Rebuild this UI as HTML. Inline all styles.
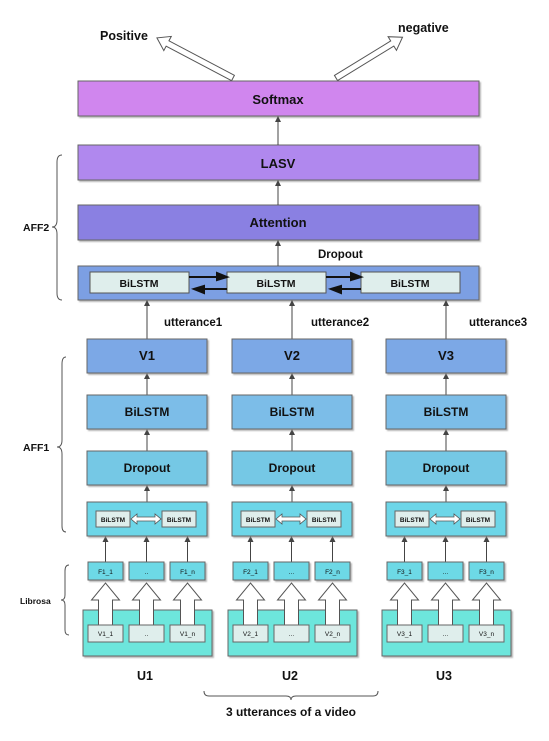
<!DOCTYPE html>
<html><head><meta charset="utf-8"><style>
html,body{margin:0;padding:0;background:#fff}
svg{display:block}
text{font-family:"Liberation Sans",sans-serif;font-weight:bold;fill:#111}
.n{font-weight:normal}
</style></head><body>
<svg width="549" height="741" viewBox="0 0 549 741" xmlns="http://www.w3.org/2000/svg">
<defs>
<marker id="ah" markerWidth="6" markerHeight="6" refX="5" refY="3" orient="auto"><path d="M0,0 L6,3 L0,6 z" fill="#444"/></marker>
<filter id="sh" x="-5%" y="-5%" width="115%" height="130%"><feDropShadow dx="1.5" dy="1.5" stdDeviation="0.8" flood-color="#888" flood-opacity="0.6"/></filter>
<g id="col">
<g stroke="#444" fill="none" marker-end="url(#ah)">
<line x1="60" y1="339" x2="60" y2="301"/>
<line x1="60" y1="395" x2="60" y2="374"/>
<line x1="60" y1="451" x2="60" y2="430"/>
<line x1="60" y1="502" x2="60" y2="486"/>
<line x1="18.5" y1="562" x2="18.5" y2="537"/>
<line x1="59.5" y1="562" x2="59.5" y2="537"/>
<line x1="100.5" y1="562" x2="100.5" y2="537"/>
</g>
<rect x="0" y="339" width="120" height="34" fill="#7ba8e6" stroke="#666" filter="url(#sh)"/>
<rect x="0" y="395" width="120" height="34" fill="#7bbde8" stroke="#666" filter="url(#sh)"/>
<rect x="0" y="451" width="120" height="34" fill="#75c8e5" stroke="#666" filter="url(#sh)"/>
<rect x="0" y="502" width="120" height="34" fill="#6dd6e8" stroke="#666" filter="url(#sh)"/>
<rect x="9" y="511" width="34" height="16" fill="#dfeeec" stroke="#666"/>
<rect x="75" y="511" width="34" height="16" fill="#dfeeec" stroke="#666"/>
<polygon points="44,519 50,514 50,517 68,517 68,514 74,519 68,524 68,521 50,521 50,524" fill="#fff" stroke="#555" stroke-width="0.8"/>
<rect x="-4" y="610" width="129" height="46" fill="#6de6dc" stroke="#666" filter="url(#sh)"/>
<rect x="1" y="562" width="35" height="18" fill="#6dd9e6" stroke="#666" filter="url(#sh)"/>
<rect x="42" y="562" width="35" height="18" fill="#6dd9e6" stroke="#666" filter="url(#sh)"/>
<rect x="83" y="562" width="35" height="18" fill="#6dd9e6" stroke="#666" filter="url(#sh)"/>
<g fill="#fff" stroke="#555">
<polygon points="11.5,642 11.5,600 4.5,600 18.5,583 32.5,600 25.5,600 25.5,642"/>
<polygon points="52.5,642 52.5,600 45.5,600 59.5,583 73.5,600 66.5,600 66.5,642"/>
<polygon points="93.5,642 93.5,600 86.5,600 100.5,583 114.5,600 107.5,600 107.5,642"/>
</g>
<rect x="1" y="625" width="35" height="17" fill="#dfeeec" stroke="#666"/>
<rect x="42" y="625" width="35" height="17" fill="#dfeeec" stroke="#666"/>
<rect x="83" y="625" width="35" height="17" fill="#dfeeec" stroke="#666"/>
</g>
</defs>

<!-- top output arrows -->
<g transform="translate(233,78) rotate(207.8)"><polygon points="0,-3 74,-3 74,-8 86,0 74,8 74,3 0,3" fill="#fff" stroke="#555" stroke-width="1"/></g>
<g transform="translate(336,78) rotate(-31.5)"><polygon points="0,-3 66,-3 66,-8 78,0 66,8 66,3 0,3" fill="#fff" stroke="#555" stroke-width="1"/></g>
<text x="100" y="40" font-size="12.5">Positive</text>
<text x="398" y="32" font-size="12.5">negative</text>

<rect x="78" y="81" width="401" height="35" fill="#d086ee" stroke="#666" filter="url(#sh)"/>
<text x="278" y="104" font-size="13" text-anchor="middle">Softmax</text>
<rect x="78" y="145" width="401" height="35" fill="#b088ee" stroke="#666" filter="url(#sh)"/>
<text x="278" y="168" font-size="13" text-anchor="middle">LASV</text>
<rect x="78" y="205" width="401" height="35" fill="#8a80e2" stroke="#666" filter="url(#sh)"/>
<text x="278" y="227" font-size="13" text-anchor="middle">Attention</text>
<rect x="78" y="266" width="401" height="34" fill="#7b9fe3" stroke="#666" filter="url(#sh)"/>
<rect x="90" y="272" width="99" height="21" fill="#dfeeec" stroke="#555"/>
<rect x="227" y="272" width="99" height="21" fill="#dfeeec" stroke="#555"/>
<rect x="361" y="272" width="99" height="21" fill="#dfeeec" stroke="#555"/>
<text x="139" y="287" font-size="10.5" text-anchor="middle">BiLSTM</text>
<text x="276" y="287" font-size="10.5" text-anchor="middle">BiLSTM</text>
<text x="410" y="287" font-size="10.5" text-anchor="middle">BiLSTM</text>
<g stroke="#111" stroke-width="2" fill="#111">
<line x1="189" y1="277" x2="220" y2="277"/><polygon points="227,277 217,273 217,280"/>
<line x1="201" y1="289" x2="227" y2="289"/><polygon points="194,289 204,286 204,293"/>
<line x1="326" y1="277" x2="354" y2="277"/><polygon points="361,277 351,273 351,280"/>
<line x1="338" y1="289" x2="361" y2="289"/><polygon points="331,289 341,286 341,293"/>
</g>
<text x="318" y="258" font-size="11.5">Dropout</text>
<g stroke="#444" stroke-width="1" fill="none" marker-end="url(#ah)">
<line x1="278" y1="145" x2="278" y2="117"/>
<line x1="278" y1="205" x2="278" y2="181"/>
<line x1="278" y1="266" x2="278" y2="241"/>
</g>

<path d="M62,155 Q57,155 57,162 L57,220 Q57,227 52,227 Q57,227 57,234 L57,293 Q57,300 62,300" fill="none" stroke="#555"/>
<text x="23" y="231" font-size="10.5">AFF2</text>
<path d="M66,357 Q62,357 62,364 L62,440 Q62,447 57,447 Q62,447 62,454 L62,526 Q62,532 66,532" fill="none" stroke="#555"/>
<text x="23" y="451" font-size="10.5">AFF1</text>
<path d="M69,565 Q65,565 65,571 L65,595 Q65,600 61,600 Q65,600 65,605 L65,630 Q65,635 69,635" fill="none" stroke="#555"/>
<text x="20" y="604" font-size="8.5">Librosa</text>

<use href="#col" x="87"/>
<use href="#col" x="232"/>
<use href="#col" x="386"/>

<text x="164" y="326" font-size="11.5">utterance1</text>
<text x="311" y="326" font-size="11.5">utterance2</text>
<text x="469" y="326" font-size="11.5">utterance3</text>

<g font-size="12" text-anchor="middle">
<text x="147" y="360" font-size="13">V1</text><text x="292" y="360" font-size="13">V2</text><text x="446" y="360" font-size="13">V3</text>
<text x="147" y="416">BiLSTM</text><text x="292" y="416">BiLSTM</text><text x="446" y="416">BiLSTM</text>
<text x="147" y="472">Dropout</text><text x="292" y="472">Dropout</text><text x="446" y="472">Dropout</text>
</g>
<g font-size="6.5" text-anchor="middle">
<text x="113" y="522">BiLSTM</text><text x="179" y="522">BiLSTM</text>
<text x="258" y="522">BiLSTM</text><text x="324" y="522">BiLSTM</text>
<text x="412" y="522">BiLSTM</text><text x="478" y="522">BiLSTM</text>
</g>
<g font-size="6.5" text-anchor="middle" class="n">
<text class="n" x="105.5" y="574">F1_1</text><text class="n" x="146.5" y="574">..</text><text class="n" x="187.5" y="574">F1_n</text>
<text class="n" x="250.5" y="574">F2_1</text><text class="n" x="291.5" y="574">...</text><text class="n" x="332.5" y="574">F2_n</text>
<text class="n" x="404.5" y="574">F3_1</text><text class="n" x="445.5" y="574">...</text><text class="n" x="486.5" y="574">F3_n</text>
<text class="n" x="105.5" y="636">V1_1</text><text class="n" x="146.5" y="636">..</text><text class="n" x="187.5" y="636">V1_n</text>
<text class="n" x="250.5" y="636">V2_1</text><text class="n" x="291.5" y="636">...</text><text class="n" x="332.5" y="636">V2_n</text>
<text class="n" x="404.5" y="636">V3_1</text><text class="n" x="445.5" y="636">...</text><text class="n" x="486.5" y="636">V3_n</text>
</g>
<g font-size="12.5" text-anchor="middle">
<text x="145" y="680">U1</text><text x="290" y="680">U2</text><text x="444" y="680">U3</text>
</g>

<path d="M204,691 Q204,696 209,696 L286,696 Q291,696 291,700 Q291,696 296,696 L373,696 Q378,696 378,691" fill="none" stroke="#555"/>
<text x="291" y="716" font-size="12" text-anchor="middle">3 utterances of a video</text>
</svg>
</body></html>
